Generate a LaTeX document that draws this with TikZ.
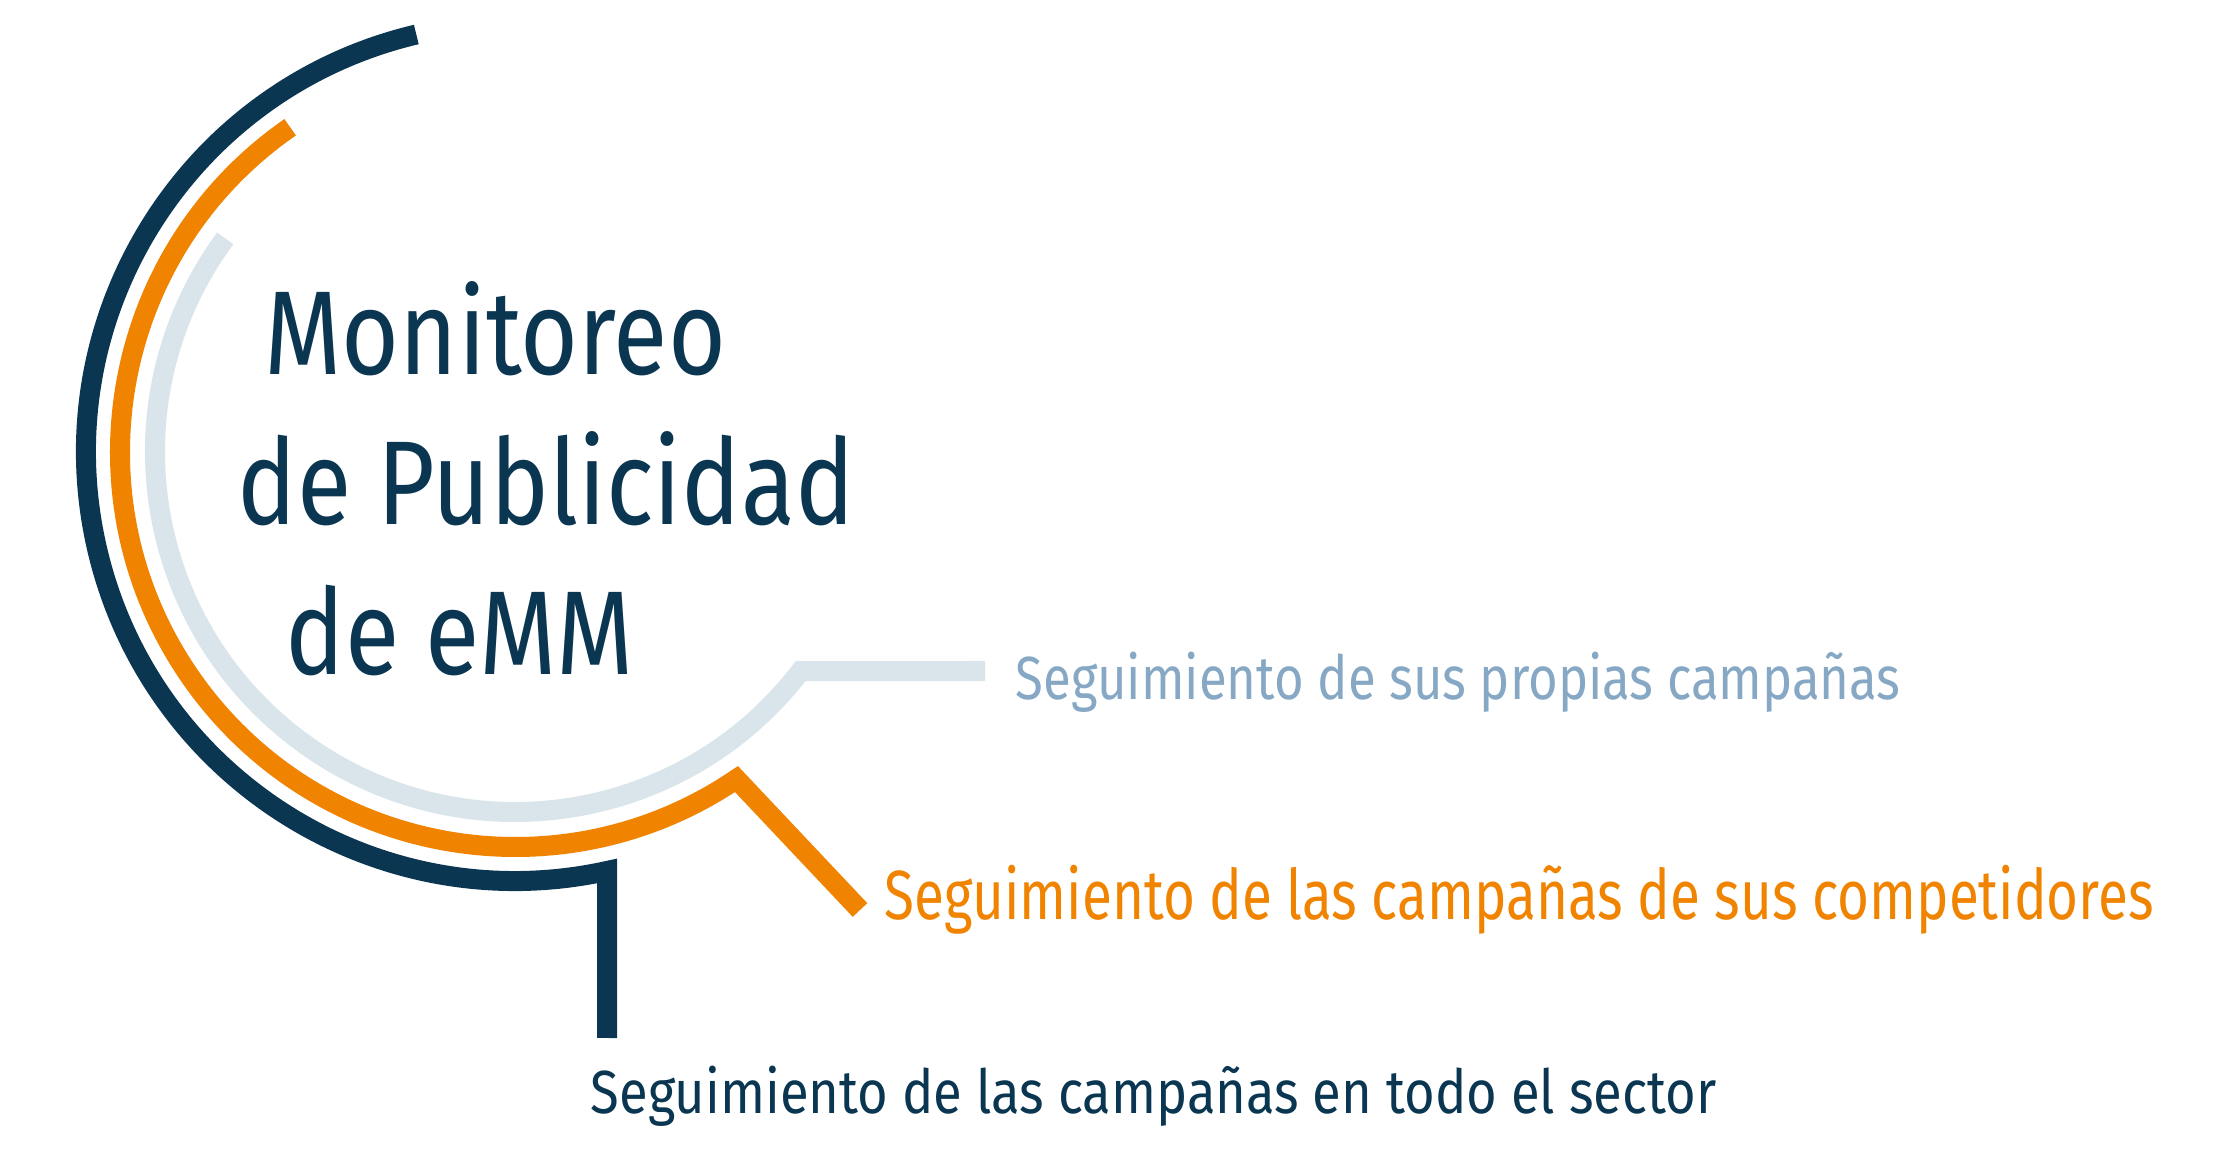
\documentclass[tikz,border=0pt]{standalone}
\usepackage{fontspec}
\setmainfont{Fira Sans}
\newfontfamily\titlefont{Fira Sans}[FakeStretch=0.833]
\newfontfamily\labfontA{Fira Sans}[FakeStretch=0.837]
\newfontfamily\labfontB{Fira Sans}[FakeStretch=0.787]
\newfontfamily\labfontC{Fira Sans}[FakeStretch=0.864]
\definecolor{navy}{HTML}{0B3652}
\definecolor{orng}{HTML}{F08300}
\definecolor{lline}{HTML}{D9E5EB}
\definecolor{ltext}{HTML}{86A8C4}
\begin{document}
\begin{tikzpicture}[x=0.01cm,y=0.01cm,
  ring/.style={line width=0.2cm, line cap=butt, line join=miter},
  ttl/.style={inner sep=0pt, anchor=base west, text=navy, font=\titlefont\fontsize{33.9}{40}\selectfont},
  lab/.style={inner sep=0pt, anchor=base west}]
\useasboundingbox (0,0) rectangle (2222,1167);
\coordinate (c) at (515,715);
\coordinate (navyEnd) at (607,129);
\coordinate (orngEnd) at (860,257);
\coordinate (lineEnd) at (985,496);
% arcs
\draw[ring, navy] ([shift={(103.3:429)}]c) arc[start angle=103.3, end angle=282.4, radius=429] -- (navyEnd);
\draw[ring, orng] ([shift={(124.7:395)}]c) arc[start angle=124.7, end angle=304.1, radius=395] -- (orngEnd);
\draw[ring, lline] ([shift={(143.6:360)}]c) arc[start angle=143.6, end angle=322.5, radius=360] -- (lineEnd);
% title
\node[ttl] (t1) at (264,792) {Monitoreo};
\node[ttl] (t2) at (237,642) {de Publicidad};
\node[ttl] (t3) at (285,492) {de eMM};
% labels
\node[lab, text=ltext, font=\labfontA\fontsize{17.3}{20}\selectfont] (l1) at (1015,467) {Seguimiento de sus propias campañas};
\node[lab, text=orng, font=\labfontB\fontsize{19.8}{23}\selectfont] (l2) at (884,247) {Seguimiento de las campañas de sus competidores};
\node[lab, text=navy, font=\labfontC\fontsize{17.3}{20}\selectfont] (l3) at (590,54) {Seguimiento de las campañas en todo el sector};
\end{tikzpicture}
\end{document}
